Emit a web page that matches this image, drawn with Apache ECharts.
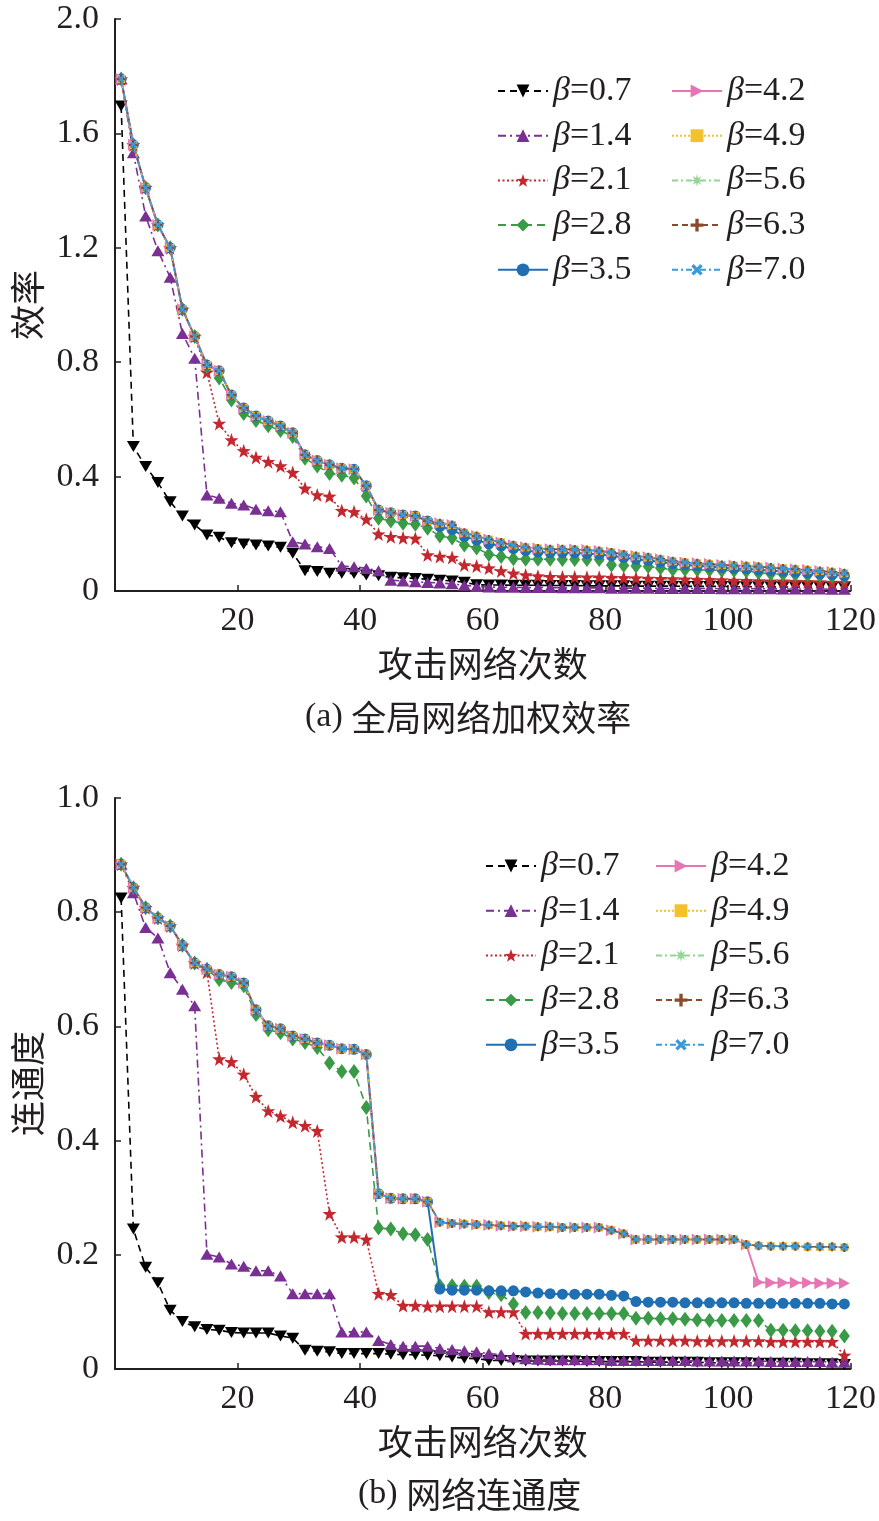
<!DOCTYPE html>
<html>
<head>
<meta charset="utf-8">
<title>网络攻击效率与连通度</title>
<script src="https://cdn.jsdelivr.net/npm/echarts@6/dist/echarts.min.js"></script>
<style>
  html, body { margin: 0; padding: 0; background: #fff; }
  #chart { width: 879px; height: 1521px; }
</style>
</head>
<body>
<div id="chart"></div>
<script>
// 攻击次数 (每两次攻击取一个点)
const attackCounts = [1, 3, 5, 7, 9, 11, 13, 15, 17, 19, 21, 23, 25, 27, 29, 31, 33, 35, 37, 39,
  41, 43, 45, 47, 49, 51, 53, 55, 57, 59, 61, 63, 65, 67, 69, 71, 73, 75, 77, 79,
  81, 83, 85, 87, 89, 91, 93, 95, 97, 99, 101, 103, 105, 107, 109, 111, 113, 115, 117, 119];

const betaNames = ['β=0.7', 'β=1.4', 'β=2.1', 'β=2.8', 'β=3.5', 'β=4.2', 'β=4.9', 'β=5.6', 'β=6.3', 'β=7.0'];

const xTicks = [0, 20, 40, 60, 80, 100, 120];
const effTicks = [0, 0.4, 0.8, 1.2, 1.6, 2.0];
const conTicks = [0, 0.2, 0.4, 0.6, 0.8, 1.0];

// (a) 全局网络加权效率
const effB07 = [1.696, 0.505, 0.435, 0.379, 0.312, 0.262, 0.231, 0.196, 0.188, 0.169,
  0.164, 0.161, 0.157, 0.153, 0.132, 0.071, 0.068, 0.062, 0.062, 0.061,
  0.056, 0.053, 0.048, 0.046, 0.044, 0.041, 0.038, 0.035, 0.031, 0.022,
  0.021, 0.021, 0.020, 0.020, 0.020, 0.019, 0.019, 0.019, 0.018, 0.018,
  0.018, 0.018, 0.017, 0.017, 0.017, 0.017, 0.016, 0.016, 0.016, 0.016,
  0.015, 0.015, 0.015, 0.015, 0.014, 0.014, 0.014, 0.013, 0.013, 0.012];
const effB14 = [1.790, 1.532, 1.311, 1.190, 1.097, 0.900, 0.814, 0.336, 0.324, 0.307,
  0.301, 0.286, 0.281, 0.277, 0.172, 0.164, 0.155, 0.149, 0.087, 0.085,
  0.079, 0.071, 0.038, 0.035, 0.032, 0.030, 0.028, 0.025, 0.020, 0.016,
  0.014, 0.013, 0.013, 0.012, 0.012, 0.012, 0.011, 0.011, 0.011, 0.011,
  0.010, 0.010, 0.010, 0.010, 0.009, 0.009, 0.009, 0.009, 0.009, 0.008,
  0.008, 0.008, 0.008, 0.008, 0.007, 0.007, 0.007, 0.007, 0.006, 0.006];
const effB21 = [1.790, 1.560, 1.410, 1.280, 1.200, 0.985, 0.890, 0.765, 0.586, 0.528,
  0.490, 0.467, 0.452, 0.437, 0.414, 0.359, 0.336, 0.331, 0.281, 0.277,
  0.251, 0.199, 0.190, 0.186, 0.184, 0.126, 0.121, 0.117, 0.091, 0.087,
  0.080, 0.070, 0.062, 0.056, 0.052, 0.050, 0.049, 0.049, 0.048, 0.048,
  0.047, 0.046, 0.045, 0.044, 0.043, 0.042, 0.041, 0.040, 0.039, 0.038,
  0.037, 0.036, 0.035, 0.034, 0.034, 0.033, 0.032, 0.031, 0.030, 0.029];
const effB28 = [1.790, 1.560, 1.410, 1.280, 1.200, 0.985, 0.890, 0.785, 0.745, 0.668,
  0.621, 0.596, 0.578, 0.561, 0.540, 0.464, 0.437, 0.411, 0.405, 0.395,
  0.332, 0.254, 0.245, 0.237, 0.233, 0.219, 0.192, 0.185, 0.161, 0.150,
  0.128, 0.121, 0.113, 0.111, 0.111, 0.111, 0.110, 0.110, 0.110, 0.110,
  0.091, 0.089, 0.087, 0.086, 0.080, 0.075, 0.075, 0.074, 0.073, 0.072,
  0.072, 0.070, 0.064, 0.060, 0.059, 0.058, 0.056, 0.054, 0.052, 0.048];
const effB35 = [1.790, 1.560, 1.410, 1.280, 1.200, 0.985, 0.890, 0.790, 0.770, 0.685,
  0.640, 0.612, 0.594, 0.577, 0.553, 0.476, 0.456, 0.441, 0.429, 0.426,
  0.368, 0.283, 0.274, 0.266, 0.262, 0.245, 0.225, 0.215, 0.190, 0.178,
  0.165, 0.157, 0.148, 0.141, 0.137, 0.134, 0.134, 0.133, 0.131, 0.128,
  0.123, 0.117, 0.111, 0.107, 0.101, 0.095, 0.091, 0.088, 0.085, 0.082,
  0.079, 0.077, 0.074, 0.071, 0.069, 0.066, 0.063, 0.060, 0.057, 0.053];
// β=4.2 ~ β=7.0 在 (a) 中几乎重合
const effHigh = [1.790, 1.560, 1.410, 1.280, 1.200, 0.985, 0.890, 0.790, 0.770, 0.685,
  0.640, 0.612, 0.594, 0.577, 0.553, 0.476, 0.456, 0.441, 0.429, 0.426,
  0.368, 0.283, 0.274, 0.266, 0.262, 0.245, 0.237, 0.231, 0.204, 0.192,
  0.180, 0.170, 0.160, 0.153, 0.149, 0.146, 0.146, 0.145, 0.143, 0.140,
  0.135, 0.128, 0.122, 0.118, 0.111, 0.104, 0.100, 0.097, 0.094, 0.091,
  0.089, 0.087, 0.085, 0.082, 0.079, 0.076, 0.073, 0.070, 0.066, 0.062];

// (b) 网络连通度
const conB07 = [0.825, 0.245, 0.178, 0.151, 0.103, 0.083, 0.074, 0.069, 0.068, 0.064,
  0.063, 0.063, 0.063, 0.058, 0.054, 0.033, 0.031, 0.030, 0.027, 0.027,
  0.027, 0.027, 0.026, 0.025, 0.025, 0.024, 0.023, 0.021, 0.019, 0.018,
  0.015, 0.015, 0.015, 0.014, 0.014, 0.014, 0.014, 0.014, 0.013, 0.013,
  0.013, 0.013, 0.013, 0.012, 0.012, 0.012, 0.012, 0.012, 0.011, 0.011,
  0.011, 0.011, 0.010, 0.010, 0.010, 0.010, 0.009, 0.009, 0.009, 0.008];
const conB14 = [0.884, 0.834, 0.773, 0.755, 0.694, 0.665, 0.636, 0.201, 0.196, 0.184,
  0.180, 0.172, 0.172, 0.163, 0.132, 0.132, 0.132, 0.132, 0.065, 0.065,
  0.065, 0.050, 0.043, 0.040, 0.040, 0.040, 0.036, 0.034, 0.032, 0.030,
  0.027, 0.025, 0.021, 0.018, 0.017, 0.016, 0.016, 0.016, 0.016, 0.016,
  0.015, 0.015, 0.015, 0.015, 0.015, 0.015, 0.015, 0.014, 0.014, 0.014,
  0.014, 0.014, 0.014, 0.013, 0.013, 0.013, 0.013, 0.013, 0.012, 0.012];
const conB21 = [0.884, 0.843, 0.808, 0.790, 0.776, 0.742, 0.711, 0.695, 0.543, 0.538,
  0.516, 0.477, 0.452, 0.443, 0.432, 0.426, 0.417, 0.272, 0.231, 0.231,
  0.227, 0.132, 0.130, 0.111, 0.111, 0.110, 0.110, 0.110, 0.110, 0.110,
  0.100, 0.100, 0.100, 0.062, 0.062, 0.062, 0.062, 0.062, 0.062, 0.062,
  0.062, 0.062, 0.050, 0.050, 0.050, 0.050, 0.050, 0.049, 0.049, 0.049,
  0.049, 0.049, 0.049, 0.048, 0.048, 0.048, 0.048, 0.048, 0.048, 0.024];
const conB28 = [0.884, 0.843, 0.808, 0.790, 0.776, 0.742, 0.711, 0.700, 0.682, 0.677,
  0.671, 0.621, 0.594, 0.589, 0.578, 0.572, 0.563, 0.536, 0.521, 0.521,
  0.458, 0.247, 0.245, 0.237, 0.235, 0.227, 0.146, 0.146, 0.145, 0.145,
  0.134, 0.130, 0.114, 0.099, 0.099, 0.098, 0.097, 0.097, 0.097, 0.097,
  0.097, 0.097, 0.089, 0.089, 0.088, 0.088, 0.087, 0.086, 0.085, 0.085,
  0.085, 0.085, 0.085, 0.068, 0.068, 0.067, 0.067, 0.066, 0.066, 0.058];
const conB35 = [0.884, 0.843, 0.808, 0.790, 0.776, 0.742, 0.711, 0.700, 0.691, 0.687,
  0.676, 0.629, 0.601, 0.596, 0.583, 0.578, 0.571, 0.567, 0.561, 0.560,
  0.551, 0.307, 0.299, 0.298, 0.298, 0.293, 0.140, 0.138, 0.138, 0.138,
  0.137, 0.137, 0.137, 0.135, 0.133, 0.132, 0.131, 0.131, 0.131, 0.131,
  0.129, 0.128, 0.118, 0.117, 0.117, 0.117, 0.116, 0.116, 0.116, 0.116,
  0.116, 0.115, 0.115, 0.115, 0.115, 0.115, 0.115, 0.115, 0.114, 0.114];
const conB42 = [0.884, 0.843, 0.808, 0.790, 0.776, 0.742, 0.711, 0.700, 0.691, 0.687,
  0.676, 0.629, 0.601, 0.596, 0.583, 0.578, 0.571, 0.567, 0.561, 0.560,
  0.551, 0.307, 0.299, 0.298, 0.298, 0.293, 0.257, 0.255, 0.254, 0.253,
  0.252, 0.251, 0.250, 0.250, 0.249, 0.249, 0.248, 0.248, 0.248, 0.248,
  0.243, 0.237, 0.227, 0.227, 0.227, 0.227, 0.227, 0.227, 0.227, 0.227,
  0.227, 0.218, 0.152, 0.151, 0.151, 0.151, 0.151, 0.150, 0.150, 0.150];
// β=4.9 ~ β=7.0 在 (b) 中几乎重合
const conHigh = [0.884, 0.843, 0.808, 0.790, 0.776, 0.742, 0.711, 0.700, 0.691, 0.687,
  0.676, 0.629, 0.601, 0.596, 0.583, 0.578, 0.571, 0.567, 0.561, 0.560,
  0.551, 0.307, 0.299, 0.298, 0.298, 0.293, 0.257, 0.255, 0.254, 0.253,
  0.252, 0.251, 0.250, 0.250, 0.249, 0.249, 0.248, 0.248, 0.248, 0.248,
  0.243, 0.237, 0.227, 0.227, 0.227, 0.227, 0.227, 0.227, 0.227, 0.227,
  0.227, 0.218, 0.216, 0.215, 0.215, 0.215, 0.214, 0.214, 0.214, 0.213];

const effSeries = [effB07, effB14, effB21, effB28, effB35, effHigh, effHigh, effHigh, effHigh, effHigh];
const conSeries = [conB07, conB14, conB21, conB28, conB35, conB42, conHigh, conHigh, conHigh, conHigh];

// 样式
const FONT_SERIF = '"Liberation Serif", "DejaVu Serif", serif';
const FONT_CJK = '"Noto Sans CJK SC", sans-serif';
const TEXT_COLOR = '#231f20';

const STAR5 = 'path://M0,-10L2.35,-3.24L9.51,-3.09L3.8,1.24L5.88,8.09L0,4L-5.88,8.09L-3.8,1.24L-9.51,-3.09L-2.35,-3.24Z';
const STAR8 = 'path://M10,0L3.7,1.53L7.07,7.07L1.53,3.7L0,10L-1.53,3.7L-7.07,7.07L-3.7,1.53L-10,0L-3.7,-1.53L-7.07,-7.07L-1.53,-3.7L0,-10L1.53,-3.7L7.07,-7.07L3.7,-1.53Z';
const PLUS = 'path://M-1.3,-5H1.3V-1.3H5V1.3H1.3V5H-1.3V1.3H-5V-1.3H-1.3Z';

const lineColors = ['#000000', '#7a2f92', '#c3282e', '#3a9a47', '#1f6fb2', '#e676b3', '#f2c12e', '#96d494', '#8b4a2b', '#3a9ad9'];
const lineDashes = [[7, 5], [8, 4, 2, 4], [2, 2.5], [8, 5], 'solid', 'solid', [2, 2], [6, 3, 2, 3], [6, 4], [6, 3, 2, 3]];
const lineWidths = [1.6, 1.6, 1.6, 1.6, 2, 2, 1.5, 1.5, 1.5, 1.5];
const markerSymbols = ['triangle', 'triangle', STAR5, 'diamond', 'circle', 'triangle', 'rect', STAR8, PLUS, PLUS];
const markerSizes = [[13, 11], [13, 11], 14, [11, 15], 11, [12, 11], 8, 10, 9, 8];
const markerRotates = [180, 0, 0, 0, 0, -90, 0, 0, 0, 45];

const chart = echarts.init(document.getElementById('chart'), null, { renderer: 'canvas' });

function buildSeries(values, gridIndex) {
  return betaNames.map((name, i) => ({
    name: name,
    type: 'line',
    xAxisIndex: gridIndex,
    yAxisIndex: gridIndex,
    data: attackCounts.map((x, k) => [x, values[i][k]]),
    symbol: markerSymbols[i],
    symbolSize: markerSizes[i],
    symbolRotate: markerRotates[i],
    showAllSymbol: true,
    lineStyle: { color: lineColors[i], width: lineWidths[i], type: lineDashes[i] },
    itemStyle: { color: lineColors[i], borderWidth: 0 },
    emphasis: { disabled: true },
    z: 2 + i
  }));
}

function legendBlock(names, left, top) {
  return {
    data: names,
    orient: 'vertical',
    left: left,
    top: top,
    padding: 0,
    itemWidth: 50,
    itemHeight: 16,
    itemGap: 10.7,
    selectedMode: false,
    // "β" 用斜体, 后面的 "=0.7" 用正体
    formatter: name => `{b|β}{n|${name.slice(1)}}`,
    textStyle: {
      color: TEXT_COLOR,
      rich: {
        b: { fontFamily: FONT_SERIF, fontStyle: 'italic', fontSize: 34, lineHeight: 36, color: TEXT_COLOR },
        n: { fontFamily: FONT_SERIF, fontSize: 34, lineHeight: 36, color: TEXT_COLOR }
      }
    }
  };
}

function xAxisFor(gridIndex) {
  return {
    type: 'value',
    gridIndex: gridIndex,
    min: xTicks[0],
    max: xTicks[xTicks.length - 1],
    interval: 20,
    name: '攻击网络次数',
    nameLocation: 'middle',
    nameGap: 55,
    nameTextStyle: { fontFamily: FONT_CJK, fontSize: 35, color: TEXT_COLOR },
    axisLine: { lineStyle: { color: '#231f20', width: 2 } },
    axisTick: { inside: true, length: 6, lineStyle: { color: '#231f20', width: 1.5 } },
    axisLabel: {
      showMinLabel: false,
      margin: 13,
      fontFamily: FONT_SERIF,
      fontSize: 34,
      color: TEXT_COLOR
    },
    splitLine: { show: false }
  };
}

function yAxisFor(gridIndex, ticks, name) {
  return {
    type: 'value',
    gridIndex: gridIndex,
    min: ticks[0],
    max: ticks[ticks.length - 1],
    interval: ticks[1] - ticks[0],
    name: name,
    nameLocation: 'middle',
    nameRotate: 90,
    nameGap: 70,
    nameTextStyle: { fontFamily: FONT_CJK, fontSize: 35, color: TEXT_COLOR },
    axisLine: { show: true, lineStyle: { color: '#231f20', width: 2 } },
    axisTick: { show: true, inside: true, length: 6, lineStyle: { color: '#231f20', width: 1.5 } },
    axisLabel: {
      margin: 16,
      fontFamily: FONT_SERIF,
      fontSize: 34,
      color: TEXT_COLOR,
      formatter: v => (v === 0 ? '0' : v.toFixed(1))
    },
    splitLine: { show: false }
  };
}

function caption(text, left, top) {
  return {
    text: text,
    left: left,
    top: top,
    padding: 0,
    textStyle: {
      fontWeight: 'normal',
      rich: {
        l: { fontFamily: FONT_SERIF, fontSize: 34, fontWeight: 'normal', color: TEXT_COLOR },
        c: { fontFamily: FONT_CJK, fontSize: 35, fontWeight: 'normal', color: TEXT_COLOR }
      }
    }
  };
}

const option = {
  animation: false,
  backgroundColor: '#ffffff',
  title: [
    caption('{l|(a) }{c|全局网络加权效率}', 305, 700),
    caption('{l|(b) }{c|网络连通度}', 358, 1477)
  ],
  legend: [
    legendBlock(betaNames.slice(0, 5), 497, 74),
    legendBlock(betaNames.slice(5), 671, 74),
    legendBlock(betaNames.slice(0, 5), 485, 849),
    legendBlock(betaNames.slice(5), 655, 849)
  ],
  grid: [
    { left: 115, top: 19, width: 737, height: 572 },
    { left: 115, top: 798, width: 737, height: 571 }
  ],
  xAxis: [xAxisFor(0), xAxisFor(1)],
  yAxis: [yAxisFor(0, effTicks, '效率'), yAxisFor(1, conTicks, '连通度')],
  series: [...buildSeries(effSeries, 0), ...buildSeries(conSeries, 1)]
};

chart.setOption(option);
window.addEventListener('resize', () => chart.resize());
</script>
</body>
</html>
